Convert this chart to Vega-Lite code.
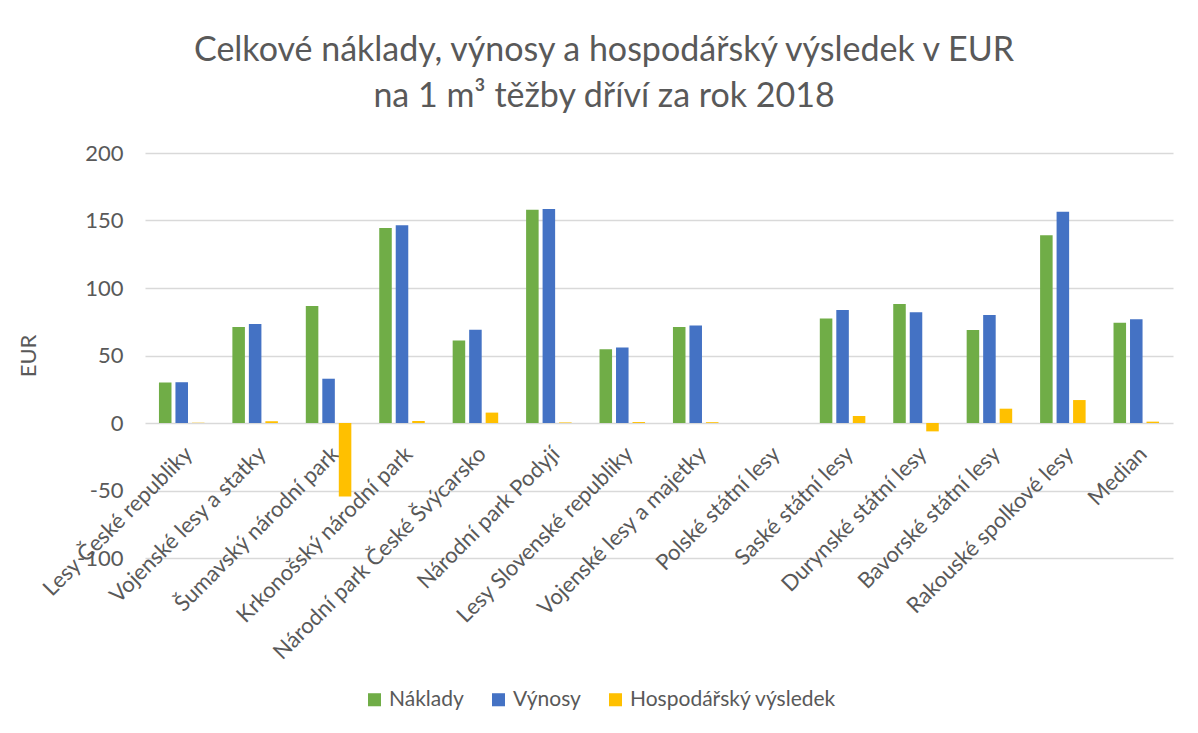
{
  "$schema": "https://vega.github.io/schema/vega-lite/v6.json",
  "autosize": "none",
  "width": 1028,
  "height": 405,
  "padding": {"left": 145, "top": 153, "right": 25, "bottom": 175},
  "background": "white",
  "title": {
    "text": ["Celkové náklady, výnosy a hospodářský výsledek v EUR", "na 1 m³ těžby dříví za rok 2018"],
    "font": "Lato",
    "fontSize": 34,
    "fontWeight": "normal",
    "color": "#595959",
    "anchor": "middle",
    "dx": -55,
    "offset": 28,
    "lineHeight": 46
  },
  "data": {
    "values": [
      {"kategorie": "Lesy České republiky", "ukazatel": "Náklady", "hodnota": 30},
      {"kategorie": "Lesy České republiky", "ukazatel": "Výnosy", "hodnota": 30.2},
      {"kategorie": "Lesy České republiky", "ukazatel": "Hospodářský výsledek", "hodnota": 0.2},
      {"kategorie": "Vojenské lesy a statky", "ukazatel": "Náklady", "hodnota": 71.1},
      {"kategorie": "Vojenské lesy a statky", "ukazatel": "Výnosy", "hodnota": 73.3},
      {"kategorie": "Vojenské lesy a statky", "ukazatel": "Hospodářský výsledek", "hodnota": 1.3},
      {"kategorie": "Šumavský národní park", "ukazatel": "Náklady", "hodnota": 86.7},
      {"kategorie": "Šumavský národní park", "ukazatel": "Výnosy", "hodnota": 32.8},
      {"kategorie": "Šumavský národní park", "ukazatel": "Hospodářský výsledek", "hodnota": -54.5},
      {"kategorie": "Krkonošský národní park", "ukazatel": "Náklady", "hodnota": 144.4},
      {"kategorie": "Krkonošský národní park", "ukazatel": "Výnosy", "hodnota": 146.4},
      {"kategorie": "Krkonošský národní park", "ukazatel": "Hospodářský výsledek", "hodnota": 1.5},
      {"kategorie": "Národní park České Švýcarsko", "ukazatel": "Náklady", "hodnota": 61.2},
      {"kategorie": "Národní park České Švýcarsko", "ukazatel": "Výnosy", "hodnota": 69.1},
      {"kategorie": "Národní park České Švýcarsko", "ukazatel": "Hospodářský výsledek", "hodnota": 7.7},
      {"kategorie": "Národní park Podyjí", "ukazatel": "Náklady", "hodnota": 158},
      {"kategorie": "Národní park Podyjí", "ukazatel": "Výnosy", "hodnota": 158.5},
      {"kategorie": "Národní park Podyjí", "ukazatel": "Hospodářský výsledek", "hodnota": 0.4},
      {"kategorie": "Lesy Slovenské republiky", "ukazatel": "Náklady", "hodnota": 54.6},
      {"kategorie": "Lesy Slovenské republiky", "ukazatel": "Výnosy", "hodnota": 56},
      {"kategorie": "Lesy Slovenské republiky", "ukazatel": "Hospodářský výsledek", "hodnota": 0.7},
      {"kategorie": "Vojenské lesy a majetky", "ukazatel": "Náklady", "hodnota": 71.1},
      {"kategorie": "Vojenské lesy a majetky", "ukazatel": "Výnosy", "hodnota": 72.3},
      {"kategorie": "Vojenské lesy a majetky", "ukazatel": "Hospodářský výsledek", "hodnota": 0.6},
      {"kategorie": "Polské státní lesy", "ukazatel": "Náklady", "hodnota": null},
      {"kategorie": "Polské státní lesy", "ukazatel": "Výnosy", "hodnota": null},
      {"kategorie": "Polské státní lesy", "ukazatel": "Hospodářský výsledek", "hodnota": null},
      {"kategorie": "Saské státní lesy", "ukazatel": "Náklady", "hodnota": 77.5},
      {"kategorie": "Saské státní lesy", "ukazatel": "Výnosy", "hodnota": 83.7},
      {"kategorie": "Saské státní lesy", "ukazatel": "Hospodářský výsledek", "hodnota": 5.2},
      {"kategorie": "Durynské státní lesy", "ukazatel": "Náklady", "hodnota": 88.1},
      {"kategorie": "Durynské státní lesy", "ukazatel": "Výnosy", "hodnota": 82},
      {"kategorie": "Durynské státní lesy", "ukazatel": "Hospodářský výsledek", "hodnota": -6.2},
      {"kategorie": "Bavorské státní lesy", "ukazatel": "Náklady", "hodnota": 68.9},
      {"kategorie": "Bavorské státní lesy", "ukazatel": "Výnosy", "hodnota": 80},
      {"kategorie": "Bavorské státní lesy", "ukazatel": "Hospodářský výsledek", "hodnota": 10.6},
      {"kategorie": "Rakouské spolkové lesy", "ukazatel": "Náklady", "hodnota": 139},
      {"kategorie": "Rakouské spolkové lesy", "ukazatel": "Výnosy", "hodnota": 156.5},
      {"kategorie": "Rakouské spolkové lesy", "ukazatel": "Hospodářský výsledek", "hodnota": 17},
      {"kategorie": "Median", "ukazatel": "Náklady", "hodnota": 74.3},
      {"kategorie": "Median", "ukazatel": "Výnosy", "hodnota": 76.8},
      {"kategorie": "Median", "ukazatel": "Hospodářský výsledek", "hodnota": 1}
    ]
  },
  "mark": {"type": "bar"},
  "encoding": {
    "x": {
      "field": "kategorie",
      "type": "nominal",
      "sort": null,
      "scale": {
        "domain": ["Lesy České republiky", "Vojenské lesy a statky", "Šumavský národní park", "Krkonošský národní park", "Národní park České Švýcarsko", "Národní park Podyjí", "Lesy Slovenské republiky", "Vojenské lesy a majetky", "Polské státní lesy", "Saské státní lesy", "Durynské státní lesy", "Bavorské státní lesy", "Rakouské spolkové lesy", "Median"],
        "paddingInner": 0.38,
        "paddingOuter": 0.19
      },
      "axis": {
        "title": null,
        "labelAngle": -45,
        "labelFont": "Lato",
        "labelFontSize": 22,
        "labelColor": "#595959",
        "labelOverlap": false,
        "labelLimit": 0,
        "labelPadding": 20,
        "domain": false,
        "ticks": false,
        "grid": false,
        "offset": -135
      }
    },
    "xOffset": {
      "field": "ukazatel",
      "type": "nominal",
      "sort": ["Náklady", "Výnosy", "Hospodářský výsledek"],
      "scale": {"paddingInner": 0.24}
    },
    "y": {
      "field": "hodnota",
      "type": "quantitative",
      "scale": {"domain": [-100, 200], "nice": false, "zero": false},
      "axis": {
        "values": [-100, -50, 0, 50, 100, 150, 200],
        "labelExpr": "'' + datum.value",
        "title": "EUR",
        "titleFont": "Lato",
        "titleFontSize": 22,
        "titleFontWeight": "normal",
        "titleColor": "#595959",
        "titlePadding": 36,
        "labelFont": "Lato",
        "labelFontSize": 22,
        "labelColor": "#595959",
        "labelPadding": 22,
        "domain": false,
        "ticks": false,
        "gridColor": "#d9d9d9",
        "gridWidth": 1.3
      }
    },
    "color": {
      "field": "ukazatel",
      "type": "nominal",
      "scale": {
        "domain": ["Náklady", "Výnosy", "Hospodářský výsledek"],
        "range": ["#70AD47", "#4472C4", "#FFC000"]
      },
      "legend": {
        "title": null,
        "orient": "none",
        "direction": "horizontal",
        "legendX": 219,
        "legendY": 536,
        "symbolType": "square",
        "symbolSize": 170,
        "symbolStrokeWidth": 0,
        "labelFont": "Lato",
        "labelFontSize": 21,
        "labelColor": "#595959",
        "labelLimit": 0,
        "columnPadding": 24,
        "padding": 0
      }
    }
  },
  "config": {"view": {"stroke": null}}
}
